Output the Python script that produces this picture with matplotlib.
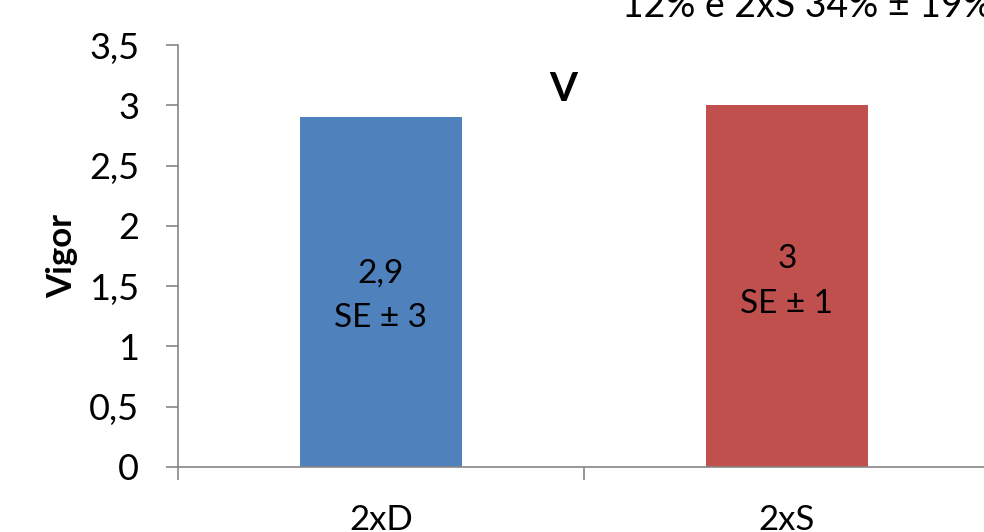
import matplotlib.pyplot as plt
import numpy as np

categories = ['2xD', '2xS']
values = [2.9, 3.0]
bar_labels = ['2,9\nSE ± 3', '3\nSE ± 1']
label_heights = [1.42, 1.54]
colors = ['#4F81BD', '#C0504D']
yticks = [0, 0.5, 1, 1.5, 2, 2.5, 3, 3.5]
ytick_labels = ['0', '0,5', '1', '1,5', '2', '2,5', '3', '3,5']

plt.rcParams['font.family'] = ['Lato', 'DejaVu Sans']

fig = plt.figure(figsize=(9.84, 5.32), dpi=100)
ax = fig.add_axes([178 / 984, 65 / 532, 812 / 984, 422 / 532])

x = np.arange(len(categories))
ax.bar(x, values, width=0.4, color=colors, zorder=2)
for xi, lab, h in zip(x, bar_labels, label_heights):
    ax.text(xi, h, lab, ha='center', va='center', fontsize=24, linespacing=1.6)

ax.set_xlim(-0.5, 1.5)
ax.set_ylim(0, 3.5)
ax.set_yticks(yticks)
ax.set_yticklabels(ytick_labels, fontsize=26)
ax.set_xticks(x)
ax.set_xticklabels(categories, fontsize=25)
ax.set_xticks([-0.5, 0.5, 1.5], minor=True)
ax.tick_params(axis='x', which='major', length=0, pad=27)
ax.tick_params(axis='x', which='minor', length=9, color='#868686', width=1.2)
ax.tick_params(axis='y', length=9, color='#868686', width=1.2, pad=19)

for s in ['top', 'right']:
    ax.spines[s].set_visible(False)
for s in ['left', 'bottom']:
    ax.spines[s].set_color('#868686')
    ax.spines[s].set_linewidth(1.2)

ax.set_ylabel('Vigor', fontsize=25, fontweight='bold', labelpad=8)
ax.text(0.45, 3.13, 'V', ha='center', va='center', fontsize=29, fontweight='bold')
fig.text(622 / 984, 1 - 17 / 532, '12% e 2xS 34% ± 19%', ha='left', va='baseline', fontsize=27)

fig.savefig('out.png', dpi=100)
